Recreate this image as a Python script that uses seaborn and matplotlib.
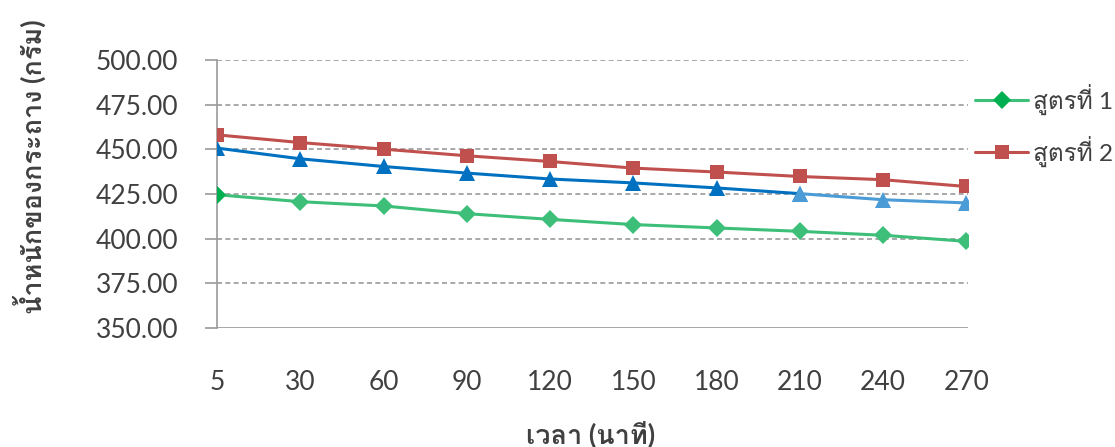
import matplotlib
matplotlib.use('Agg')
import numpy as np
import pandas as pd
import matplotlib.pyplot as plt
import seaborn as sns

# ข้อมูล (อ่านค่าจากกราฟ)
time_labels = ['5', '30', '60', '90', '120', '150', '180', '210', '240', '270']
formula_1 = [424.6, 420.7, 418.3, 414.0, 410.8, 407.9, 406.0, 404.1, 401.9, 398.5]
formula_2 = [458.1, 453.8, 450.1, 446.4, 443.2, 439.5, 437.3, 434.8, 433.0, 429.2]
formula_3 = [450.7, 444.7, 440.4, 436.7, 433.4, 431.2, 428.4, 425.2, 421.8, 420.0]
series_names = ['สูตรที่ 1', 'สูตรที่ 2', 'สูตรที่ 3']
y_ticks = [350, 375, 400, 425, 450, 475, 500]

sns.set_style('white')
fonts = ['Lato', 'Loma', 'DejaVu Sans']
plt.rcParams['font.family'] = fonts

pos = np.arange(len(time_labels))
df = pd.DataFrame({
    'pos': np.tile(pos, 3),
    'weight': formula_1 + formula_2 + formula_3,
    'series': np.repeat(series_names, len(time_labels)),
})

fig = plt.figure(figsize=(11.15, 4.47), dpi=100)
ax = fig.add_axes([217 / 1115, 1 - 328 / 447, (968 - 217) / 1115, (328 - 60) / 447])

# เส้นกริด
for v in y_ticks[1:]:
    ax.axhline(v, color='#9a9a9a', lw=1.2, ls=(0, (3, 2)), zorder=0)
ax.axhline(350, color='#9a9a9a', lw=1.2, zorder=0)

green, green_dark = '#3dbf79', '#00b050'
red = '#c0504d'
blue, blue_light = '#0070c0', '#4a9bd6'

d1 = df[df.series == series_names[0]]
d2 = df[df.series == series_names[1]]
d3 = df[df.series == series_names[2]]

sns.lineplot(data=d3.iloc[:8], x='pos', y='weight', color=blue, marker='^',
             markersize=11, markeredgewidth=0, lw=2.2, ax=ax, zorder=3)
sns.lineplot(data=d3.iloc[7:], x='pos', y='weight', color=blue_light, marker='^',
             markersize=11, markeredgewidth=0, lw=2.2, ax=ax, zorder=3)
sns.lineplot(data=d1, x='pos', y='weight', color=green, marker='D',
             markersize=9, markeredgewidth=0, lw=2.2, ax=ax, zorder=3)
sns.lineplot(data=d1.iloc[:1], x='pos', y='weight', color=green_dark, marker='D',
             markersize=9, markeredgewidth=0, lw=0, ax=ax, zorder=4)
sns.lineplot(data=d2, x='pos', y='weight', color=red, marker='s',
             markersize=10.5, markeredgewidth=0, lw=2.2, ax=ax, zorder=3)

ax.set_xlim(0, 9.02)
ax.set_ylim(350, 500)
ax.set_yticks(y_ticks)
ax.set_yticklabels([f'{v:.2f}' for v in y_ticks])
ax.set_xticks(pos)
ax.set_xticklabels(time_labels)
ax.tick_params(axis='y', length=9, width=1.2, color='#9a9a9a', pad=19,
               labelsize=19, labelcolor='#404040', left=True)
ax.tick_params(axis='x', length=0, pad=30, labelsize=19, labelcolor='#404040')
ax.set_xlabel('')
ax.set_ylabel('')
for s in ['top', 'right', 'bottom']:
    ax.spines[s].set_visible(False)
ax.spines['left'].set_color('#9a9a9a')
ax.spines['left'].set_linewidth(1.2)
ax.patch.set_alpha(0)

fig.text(30 / 1115, 1 - 167 / 447, 'น้ำหนักของกระถาง (กรัม)', rotation=90,
         ha='center', va='center', fontsize=19.5, fontweight='bold', color='#404040',
         family=fonts)
fig.text(591 / 1115, 1 - 434 / 447, 'เวลา (นาที)', ha='center', va='center',
         fontsize=19.5, fontweight='bold', color='#404040', family=fonts)

h1 = plt.Line2D([], [], color=green, lw=2.2, marker='D', markersize=9,
                markerfacecolor=green_dark, markeredgewidth=0)
h2 = plt.Line2D([], [], color=red, lw=2.2, marker='s', markersize=10.5,
                markeredgewidth=0)
leg = fig.legend([h1, h2], series_names[:2], loc='upper left',
                 bbox_to_anchor=(975 / 1115, 1 - 84 / 447), frameon=False,
                 fontsize=17.5, handlelength=2.2, handletextpad=0.2,
                 labelspacing=0.85, borderaxespad=0, borderpad=0)
for t in leg.get_texts():
    t.set_color('#404040')

fig.savefig('out.png', dpi=100)
